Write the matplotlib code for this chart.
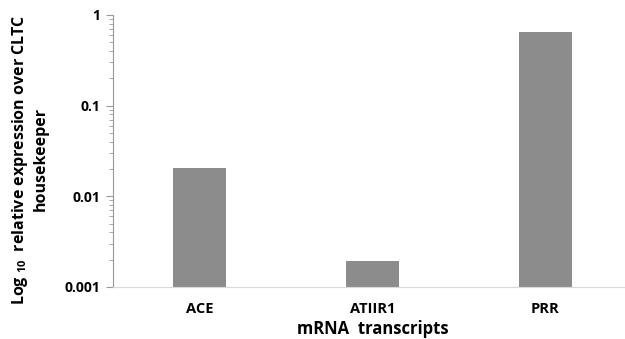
import matplotlib
matplotlib.use("Agg")
import matplotlib.pyplot as plt
from matplotlib.ticker import LogLocator, NullFormatter, FixedLocator

plt.rcParams['font.family'] = ['Open Sans', 'DejaVu Sans']
plt.rcParams['mathtext.fontset'] = 'custom'
plt.rcParams['mathtext.rm'] = 'Open Sans:bold'
plt.rcParams['mathtext.default'] = 'regular'

categories = ['ACE', 'ATIIR1', 'PRR']
values = [0.0205, 0.00194, 0.647]
y_ticks = [0.001, 0.01, 0.1, 1]
y_ticklabels = ['0.001', '0.01', '0.1', '1']

fig = plt.figure(figsize=(6.25, 3.39), dpi=100)
ax = fig.add_axes([113 / 625, 1 - 287 / 339, 519 / 625, 272 / 339])

x = range(len(categories))
ax.bar(x, values, width=0.31, color='#8c8c8c', zorder=2)

ax.set_yscale('log')
ax.set_ylim(0.001, 1)
ax.set_xlim(-0.5, 2.5)
ax.yaxis.set_major_locator(FixedLocator(y_ticks))
ax.set_yticklabels(y_ticklabels, fontsize=10, fontweight='bold')
ax.yaxis.set_minor_locator(LogLocator(base=10, subs=range(2, 10)))
ax.yaxis.set_minor_formatter(NullFormatter())
ax.tick_params(axis='y', which='major', direction='out', length=5, color='#999999', pad=4)
ax.tick_params(axis='y', which='minor', direction='out', length=3, color='#999999')

ax.set_xticks(list(x))
ax.set_xticklabels(categories, fontsize=10.5, fontweight='bold')
ax.tick_params(axis='x', length=0, pad=11)

for s in ['top', 'right']:
    ax.spines[s].set_visible(False)
ax.spines['left'].set_color('#999999')
ax.spines['bottom'].set_color('#d9d9d9')

ax.set_xlabel('mRNA  transcripts', fontsize=12, fontweight='bold', labelpad=3)
fig.text(0.047, 0.53, 'Log $_{10}$  relative expression over CLTC\nhousekeeper',
         rotation=90, ha='center', va='center', fontsize=11.5, fontweight='bold',
         multialignment='center', linespacing=1.2)

fig.savefig('out.png', dpi=100)
